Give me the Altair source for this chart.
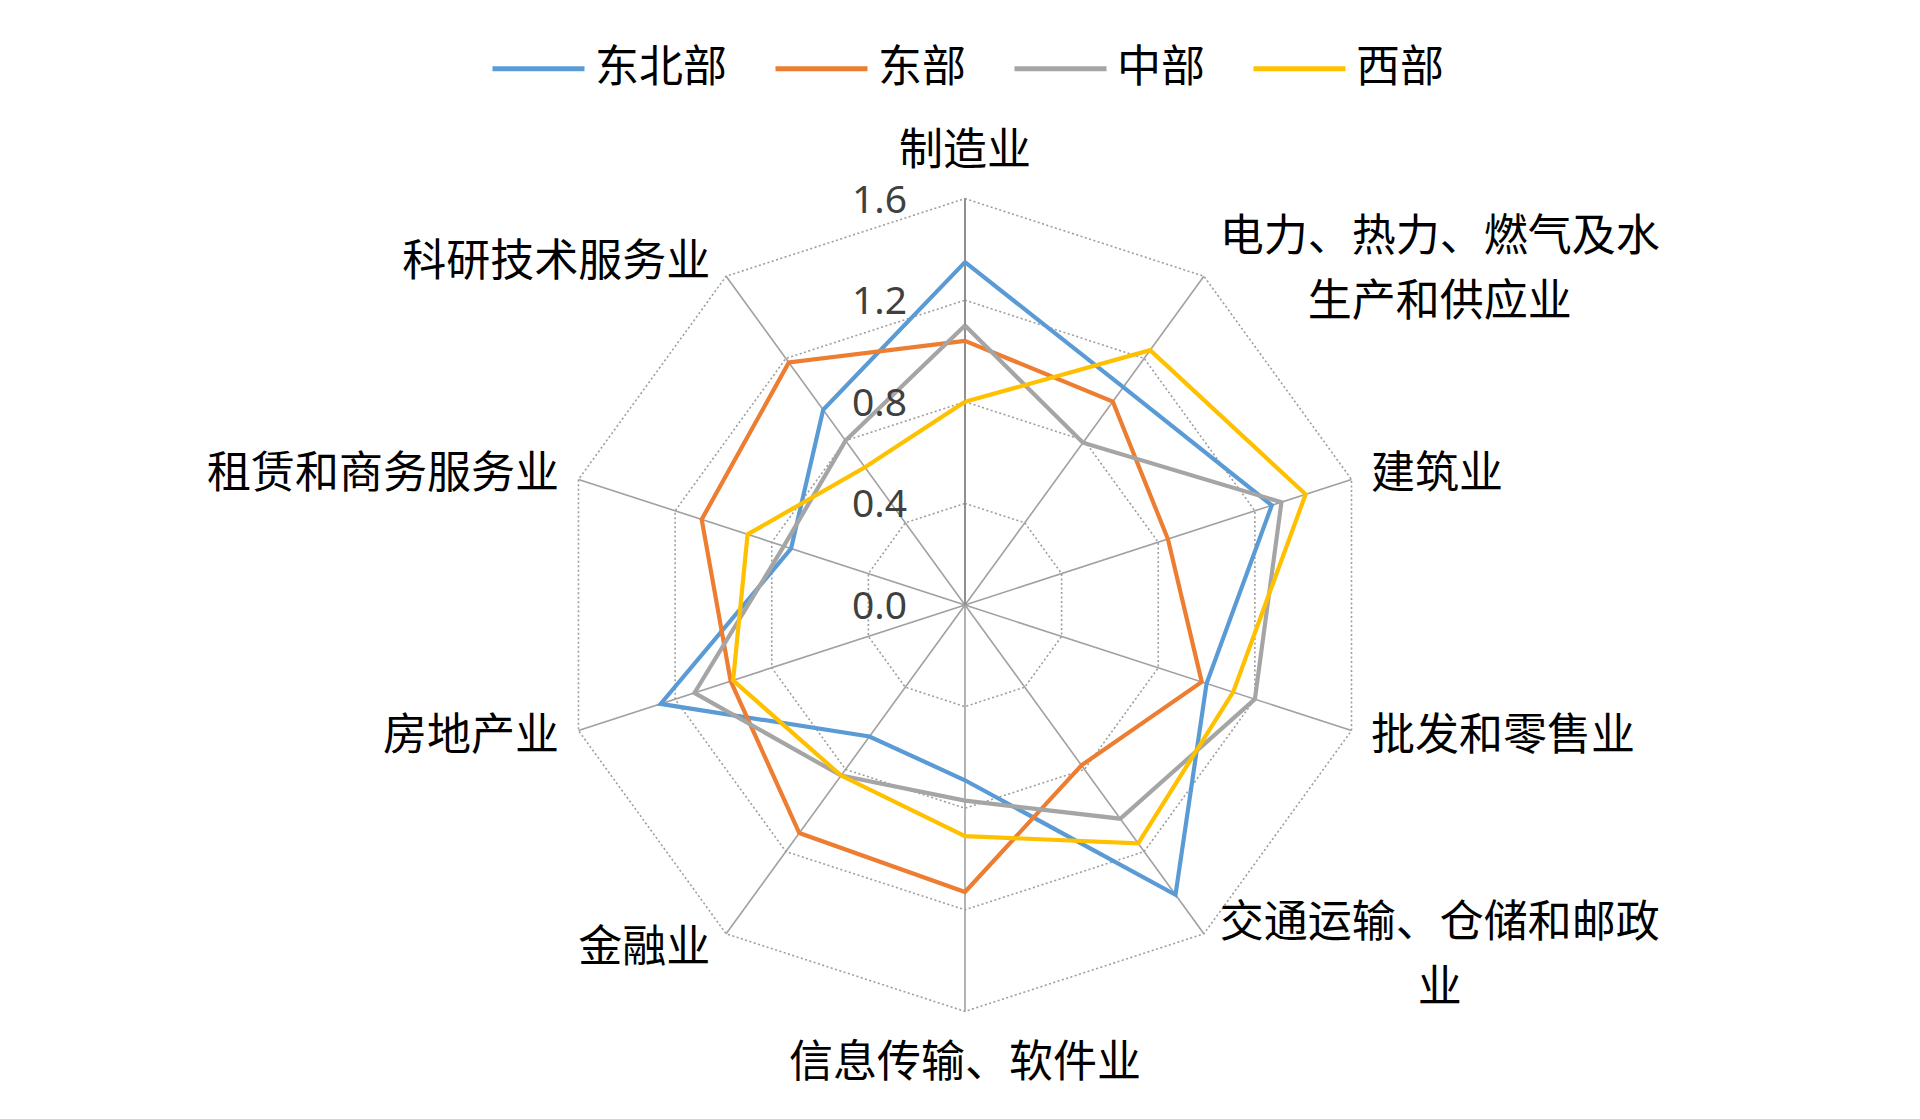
import math
import altair as alt
import pandas as pd

# ---------------- data ----------------
categories = [
    "制造业",
    "电力、热力、燃气及水\n生产和供应业",
    "建筑业",
    "批发和零售业",
    "交通运输、仓储和邮政\n业",
    "信息传输、软件业",
    "金融业",
    "房地产业",
    "租赁和商务服务业",
    "科研技术服务业",
]
series_names = ["东北部", "东部", "中部", "西部"]
northeast = [1.35, 1.06, 1.27, 1.00, 1.41, 0.69, 0.64, 1.26, 0.72, 0.95]
east = [1.04, 0.99, 0.84, 0.98, 0.78, 1.13, 1.11, 0.97, 1.09, 1.18]
central = [1.10, 0.79, 1.31, 1.20, 1.04, 0.77, 0.83, 1.12, 0.75, 0.80]
west = [0.80, 1.24, 1.41, 1.11, 1.16, 0.91, 0.83, 0.96, 0.90, 0.67]
tick_values = [0.0, 0.4, 0.8, 1.2, 1.6]
tick_labels = ["0.0", "0.4", "0.8", "1.2", "1.6"]

colors = ["#5B9BD5", "#ED7D31", "#A5A5A5", "#FFC000"]

# ---------------- layout ----------------
W, H = 1900, 1100
CX, CY = 957, 597          # centre of the radar in plot pixels
PX = 254.0                 # pixels per data unit
RMAX = 1.6
N = len(categories)
CJK_FONT = "Noto Sans CJK SC"
FS = 44
LH = 65

x_scale = alt.Scale(domain=[-CX / PX, (W - CX) / PX], nice=False, zero=False)
y_scale = alt.Scale(domain=[-(H - CY) / PX, CY / PX], nice=False, zero=False)

# series table (closed polygons)
all_vals = [northeast, east, central, west]
rows = []
for name, vals in zip(series_names, all_vals):
    for i in range(N + 1):
        rows.append({"series": name, "idx": i, "cat_i": i % N, "value": vals[i % N]})
series_df = pd.DataFrame(rows)

# grid rings
ring_rows = []
for lv in tick_values[1:]:
    for i in range(N + 1):
        ring_rows.append({"level": lv, "idx": i, "cat_i": i % N})
ring_df = pd.DataFrame(ring_rows)

# spokes
spoke_df = pd.DataFrame({"cat_i": list(range(N)), "r": [RMAX] * N})

# category labels
lab_rows = []
for i, lab in enumerate(categories):
    th = 2 * math.pi * i / N
    s, c = math.sin(th), math.cos(th)
    lines_ = lab.split("\n")
    width = max(len(l) for l in lines_) * FS
    if abs(s) < 0.1:
        lx = RMAX * s
        ly = RMAX * c + (50 * c - 3) / PX
    else:
        gap = 10 + 10 * abs(s)
        lx = RMAX * s + math.copysign(gap + width / 2, s) / PX
        ly = RMAX * c + (3 + 17 * c - 4) / PX
    ly += (len(lines_) - 1) * 25 / PX
    lab_rows.append({"label": lab, "lx": lx, "ly": ly})
lab_df = pd.DataFrame(lab_rows)

tick_df = pd.DataFrame({"v": tick_values, "t": tick_labels})

ang = "datum.cat_i * 2 * PI / %d" % N

rings = alt.Chart(ring_df).mark_line(
    color="#9E9E9E", strokeWidth=1.6, strokeDash=[2, 2.5]
).transform_calculate(
    x="datum.level * sin(%s)" % ang, y="datum.level * cos(%s)" % ang
).encode(
    x=alt.X("x:Q", scale=x_scale, axis=None),
    y=alt.Y("y:Q", scale=y_scale, axis=None),
    detail="level:N",
    order="idx:Q",
)

spokes = alt.Chart(spoke_df).mark_rule(color="#A0A0A0", strokeWidth=1.6).transform_calculate(
    x0="0", y0="0",
    x2="datum.r * sin(%s)" % ang, y2="datum.r * cos(%s)" % ang,
).encode(
    x=alt.X("x0:Q", scale=x_scale, axis=None),
    y=alt.Y("y0:Q", scale=y_scale, axis=None),
    x2="x2:Q",
    y2="y2:Q",
)

value_axis = alt.Chart(spoke_df.iloc[:1]).mark_rule(color="#8C8C8C", strokeWidth=1.8).transform_calculate(
    x0="0", y0="0", y2="datum.r"
).encode(
    x=alt.X("x0:Q", scale=x_scale, axis=None),
    y=alt.Y("y0:Q", scale=y_scale, axis=None),
    y2="y2:Q",
)

lines = alt.Chart(series_df).mark_line(strokeWidth=4.2, strokeJoin="miter").transform_calculate(
    x="datum.value * sin(%s)" % ang, y="datum.value * cos(%s)" % ang
).encode(
    x=alt.X("x:Q", scale=x_scale, axis=None),
    y=alt.Y("y:Q", scale=y_scale, axis=None),
    color=alt.Color(
        "series:N",
        scale=alt.Scale(domain=series_names, range=colors),
        legend=alt.Legend(
            title=None,
            orient="none",
            legendX=482,
            legendY=12,
            direction="horizontal",
            columns=4,
            symbolType="stroke",
            symbolSize=92 * 92,
            symbolStrokeWidth=4.8,
            labelFont=CJK_FONT,
            labelFontSize=FS,
            labelColor="black",
            labelOffset=8,
            columnPadding=38,
        ),
    ),
    order="idx:Q",
)

ticks = alt.Chart(tick_df).mark_text(
    align="right", baseline="middle", dx=-58, dy=2, font="Noto Sans", fontSize=39, color="#404040"
).transform_calculate(x0="0").encode(
    x=alt.X("x0:Q", scale=x_scale, axis=None),
    y=alt.Y("v:Q", scale=y_scale, axis=None),
    text="t:N",
)

labels = alt.Chart(lab_df).mark_text(
    align="center", baseline="middle", lineBreak="\n", lineHeight=LH,
    font=CJK_FONT, fontSize=FS, color="black"
).encode(
    x=alt.X("lx:Q", scale=x_scale, axis=None),
    y=alt.Y("ly:Q", scale=y_scale, axis=None),
    text="label:N",
)

chart = alt.layer(rings, spokes, value_axis, lines, ticks, labels).properties(
    width=W, height=H, padding=0, autosize=alt.AutoSizeParams(type="none")
).configure(background="white").configure_view(stroke=None)

chart.save("out.html", embed_options={"renderer": "svg", "actions": False})
